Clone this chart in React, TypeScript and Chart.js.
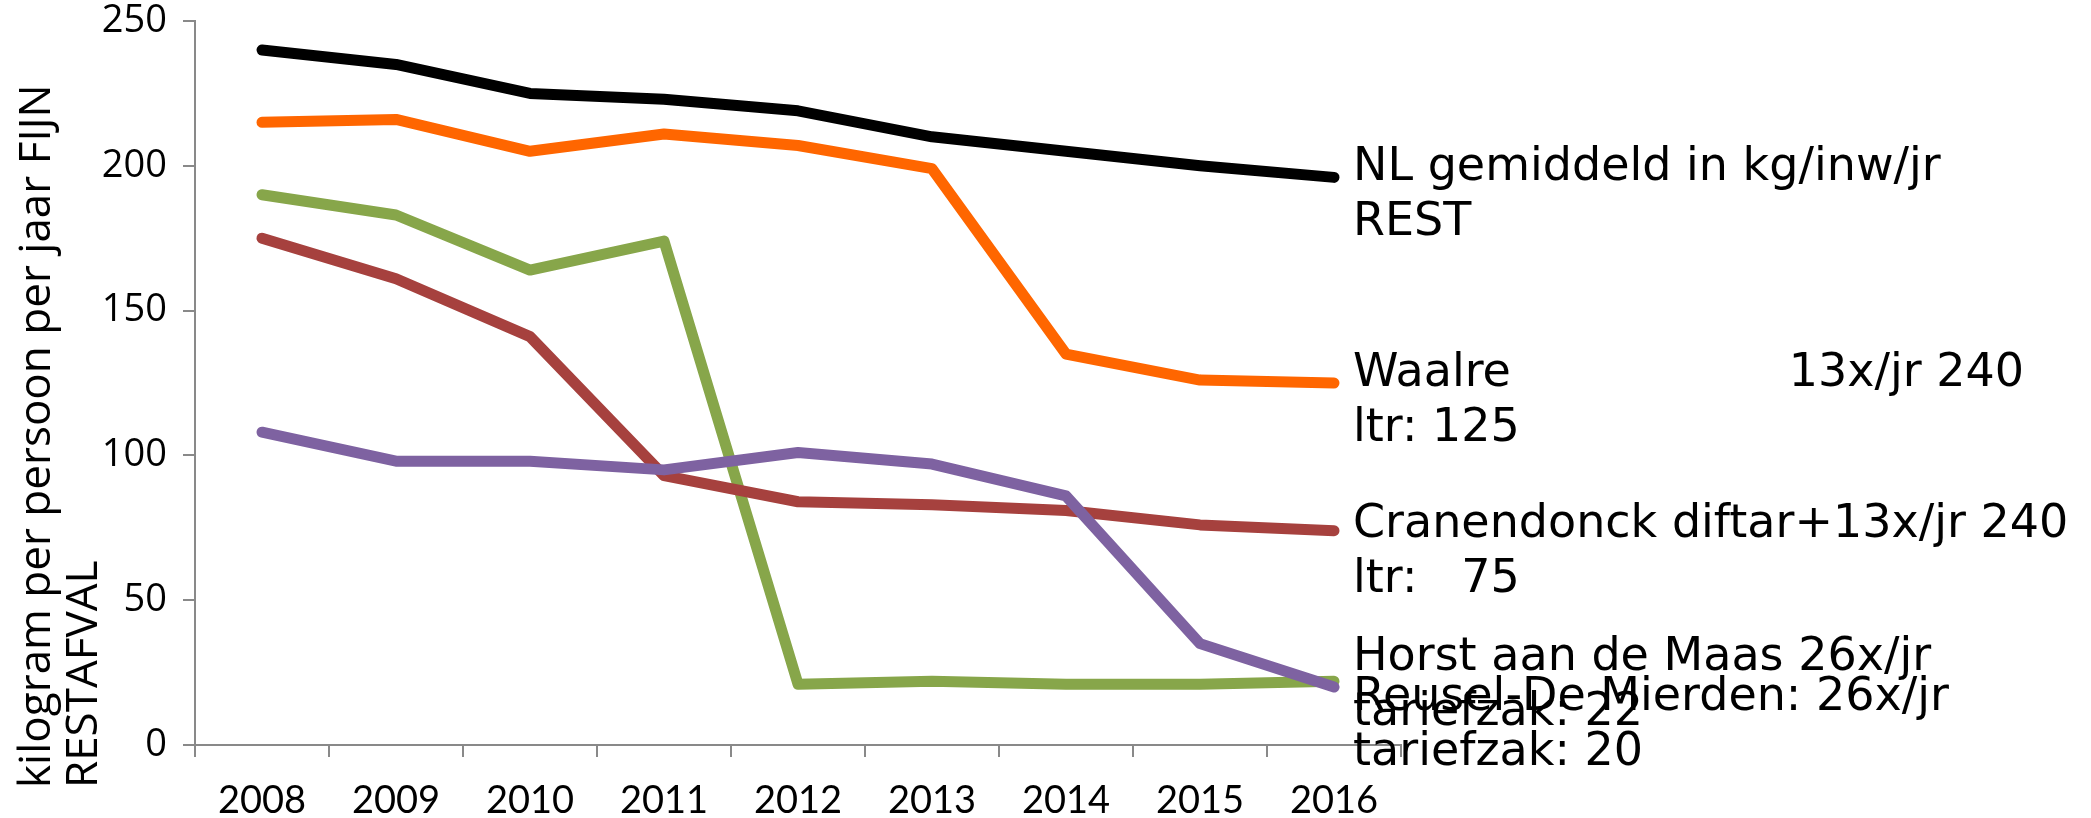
import React, { useEffect, useRef } from 'react';
import { Chart, registerables } from 'chart.js';

Chart.register(...registerables);

// ---- data ----
const years = ['2008', '2009', '2010', '2011', '2012', '2013', '2014', '2015', '2016'];
const nlAverage = [240, 235, 225, 223, 219, 210, 205, 200, 196];
const waalre = [215, 216, 205, 211, 207, 199, 135, 126, 125];
const horst = [190, 183, 164, 174, 21, 22, 21, 21, 22];
const cranendonck = [175, 161, 141, 93, 84, 83, 81, 76, 74];
const reusel = [108, 98, 98, 95, 101, 97, 86, 35, 20];
const yTicks = [0, 50, 100, 150, 200, 250];

const axisTitle = ['kilogram per persoon per jaar FIJN', 'RESTAFVAL'];
const nlLabel = ['NL gemiddeld in kg/inw/jr', 'REST'];
const waalreLabel = ['Waalre                   13x/jr 240', 'ltr: 125'];
const horstLabel = ['Horst aan de Maas 26x/jr', 'tariefzak: 22'];
const cranendonckLabel = ['Cranendonck diftar+13x/jr 240', 'ltr:   75'];
const reuselLabel = ['Reusel-De Mierden: 26x/jr', 'tariefzak: 20'];

// ---- styles ----
const W = 2091;
const H = 818;
const AXIS_COLOR = '#898989';
const YTICK_FONT = "'Open Sans', Lato, sans-serif";
const XTICK_FONT = "Lato, 'Open Sans', sans-serif";
const TITLE_FONT = "'Open Sans', Lato, sans-serif";
const LABEL_FONT = "'DejaVu Sans', Verdana, sans-serif";

const series = [
  { data: nlAverage, color: '#000000', label: nlLabel, shift: 3, order: 5 },
  { data: waalre, color: '#FF6600', label: waalreLabel, shift: 3, order: 4 },
  { data: horst, color: '#87A64A', label: horstLabel, shift: -11, order: 3 },
  { data: cranendonck, color: '#A6413E', label: cranendonckLabel, shift: 6, order: 2 },
  { data: reusel, color: '#7E62A1', label: reuselLabel, shift: 23, order: 1 },
];

const endLabelsPlugin = {
  id: 'endLabels',
  afterDatasetsDraw(chart: any) {
    const ctx = chart.ctx;
    ctx.save();
    ctx.font = `46px ${LABEL_FONT}`;
    ctx.fillStyle = '#000';
    ctx.textAlign = 'left';
    ctx.textBaseline = 'alphabetic';
    series.forEach((s, i) => {
      const meta = chart.getDatasetMeta(i);
      const pt = meta.data[meta.data.length - 1];
      if (!pt) return;
      s.label.forEach((line, k) => {
        ctx.fillText(line, pt.x + 19, pt.y + s.shift + k * 55);
      });
    });
    ctx.restore();
  },
};

const yTitlePlugin = {
  id: 'yTitle',
  afterDraw(chart: any) {
    const ctx = chart.ctx;
    const bottom = chart.chartArea.bottom;
    ctx.save();
    ctx.font = `44px ${TITLE_FONT}`;
    ctx.fillStyle = '#000';
    ctx.textAlign = 'left';
    ctx.textBaseline = 'alphabetic';
    ctx.translate(50, bottom + 43);
    ctx.rotate(-Math.PI / 2);
    axisTitle.forEach((line, k) => ctx.fillText(line, 0, k * 47));
    ctx.restore();
  },
};

export default function App() {
  const ref = useRef<HTMLCanvasElement>(null);

  useEffect(() => {
    if (!ref.current) return;
    const chart = new Chart(ref.current, {
      type: 'line',
      data: {
        labels: years,
        datasets: series.map((s) => ({
          data: s.data,
          borderColor: s.color,
          backgroundColor: s.color,
          borderWidth: 11,
          borderCapStyle: 'round',
          borderJoinStyle: 'round',
          pointRadius: 0,
          pointHoverRadius: 0,
          tension: 0,
          fill: false,
          order: s.order,
        })),
      },
      options: {
        animation: false,
        responsive: false,
        devicePixelRatio: 1,
        events: [],
        layout: { padding: { left: 0, top: 21, right: W - 1401, bottom: 0 } },
        plugins: {
          legend: { display: false },
          tooltip: { enabled: false },
          title: { display: false },
        },
        scales: {
          x: {
            type: 'category',
            offset: true,
            grid: {
              offset: true,
              drawOnChartArea: false,
              drawTicks: true,
              tickLength: 12,
              color: AXIS_COLOR,
              lineWidth: 2,
            },
            border: { display: true, color: AXIS_COLOR, width: 2 },
            ticks: {
              color: '#000',
              font: { family: XTICK_FONT, size: 38 },
              padding: 21,
              maxRotation: 0,
              autoSkip: false,
            },
            afterFit: (scale: any) => {
              scale.height = 73;
              scale.paddingLeft = 0;
              scale.paddingRight = 0;
            },
          },
          y: {
            min: 0,
            max: 250,
            grid: {
              drawOnChartArea: false,
              drawTicks: true,
              tickLength: 12,
              color: AXIS_COLOR,
              lineWidth: 2,
            },
            border: { display: true, color: AXIS_COLOR, width: 2 },
            afterBuildTicks: (scale: any) => {
              scale.ticks = yTicks.map((v) => ({ value: v }));
            },
            ticks: {
              color: '#000',
              font: { family: YTICK_FONT, size: 38 },
              padding: 16,
            },
            afterFit: (scale: any) => {
              scale.width = 195;
              scale.paddingTop = 0;
              scale.paddingBottom = 0;
            },
          },
        },
      },
      plugins: [endLabelsPlugin, yTitlePlugin],
    } as any);
    return () => chart.destroy();
  }, []);

  return (
    <div style={{ position: 'fixed', left: 0, top: 0, width: W, height: H, background: '#fff' }}>
      <canvas ref={ref} width={W} height={H} style={{ display: 'block', width: W, height: H }} />
    </div>
  );
}
